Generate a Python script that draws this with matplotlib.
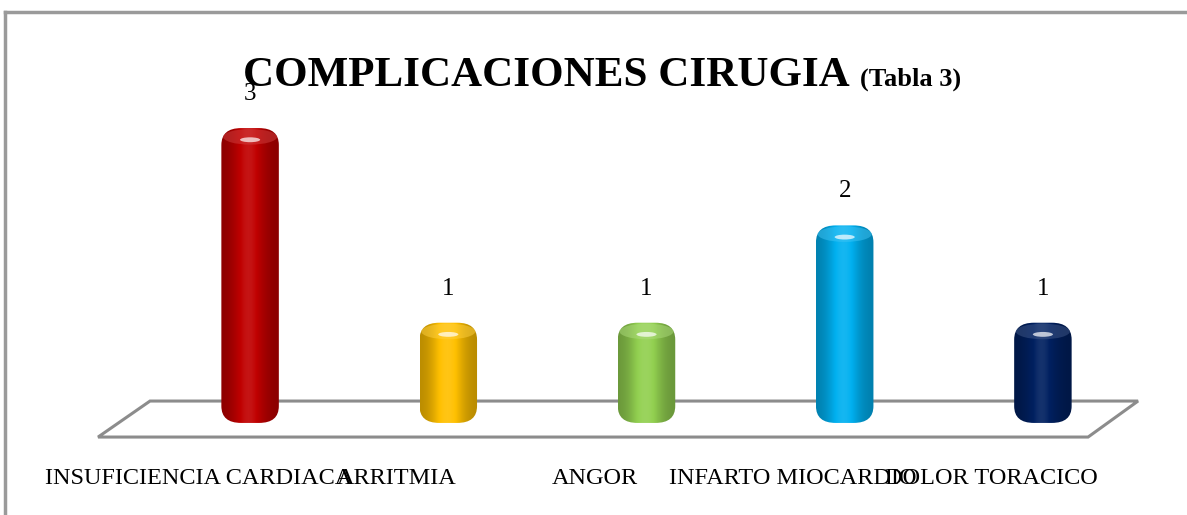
import numpy as np
import matplotlib.pyplot as plt
from matplotlib.patches import FancyBboxPatch, Ellipse, Polygon
from matplotlib.lines import Line2D
from matplotlib.colors import to_rgb

### datos #####
categorias = ["INSUFICIENCIA CARDIACA", "ARRITMIA", "ANGOR", "INFARTO MIOCARDIO", "DOLOR TORACICO"]
valores = [3, 1, 1, 2, 1]
colores = ["#c00000", "#ffc000", "#92d050", "#00b0f0", "#002060"]
titulo = "COMPLICACIONES CIRUGIA"
subtitulo = "(Tabla 3)"
#######

plt.rcParams["font.family"] = ["Liberation Serif", "DejaVu Serif"]

W, H = 1187, 515
fig = plt.figure(figsize=(W / 100, H / 100), dpi=100)
ax = fig.add_axes([151 / W, 7.4 / H, 991 / W, 496.3 / H])
ax.axis("off")

# px por unidad en cada eje (para redondear las barras sin deformarlas)
px_x = 991 / 5.0
px_y = 496.3 / 5.1
asp = px_x / px_y

# suelo en perspectiva
ax.add_patch(Polygon([[-0.767, -0.175], [-0.505, 0.195], [4.48, 0.195], [4.228, -0.175]],
                     closed=True, fill=False, edgecolor="#8c8c8c", lw=2.2, zorder=1,
                     clip_on=False))

x = np.arange(len(categorias))
barras = ax.bar(x, valores, width=0.29, color="none", edgecolor="none", zorder=2)

t = np.linspace(-1, 1, 80)
sombra = 0.72 + 0.36 * np.exp(-((t + 0.05) / 0.55) ** 2)

for b, c in zip(barras, colores):
    x0, w, h = b.get_x(), b.get_width(), b.get_height()
    base = -0.03
    parche = FancyBboxPatch((x0, base), w, h - base,
                            boxstyle="round,pad=0,rounding_size=0.1",
                            mutation_aspect=asp * 0.85, fc="none", ec="none", zorder=3)
    ax.add_patch(parche)
    rgb = np.array(to_rgb(c))
    img = np.where(sombra[:, None] <= 1, rgb[None, :] * sombra[:, None],
                   rgb[None, :] + (1 - rgb[None, :]) * (sombra[:, None] - 1))
    img = np.clip(img, 0, 1)[None, :, :]
    im = ax.imshow(img, extent=(x0, x0 + w, base, h), aspect="auto",
                   interpolation="bicubic", zorder=3)
    im.set_clip_path(parche)
    # tapa superior
    claro = rgb + (1 - rgb) * 0.25
    ax.add_patch(Ellipse((x0 + w / 2, h - 0.09), w * 0.94, 0.16, fc=claro, ec="none",
                         alpha=0.5, zorder=4))
    ax.add_patch(Ellipse((x0 + w / 2, h - 0.12), w * 0.35, 0.05, fc="white", ec="none",
                         alpha=0.7, zorder=5))
    ax.text(x0 + w / 2, h + 0.35, str(int(h)), ha="center", va="center", fontsize=18)

for xi, cat in zip(x, categorias):
    ax.text(xi - 0.26, -0.6, cat, ha="center", va="center", fontsize=17.5)

ax.set_xlim(-0.5, 4.5)
ax.set_ylim(-0.9, 4.2)

# titulo
t1 = fig.text(243 / W, 1 - 86 / H, titulo, fontsize=31, fontweight="bold", va="baseline")
fig.canvas.draw()
bb = t1.get_window_extent(renderer=fig.canvas.get_renderer())
fig.text((bb.x1 + 10) / W, 1 - 86 / H, subtitulo, fontsize=19, fontweight="bold", va="baseline")

# borde
fig.add_artist(Line2D([5 / W, 5 / W], [0, 1 - 12 / H], color="#9a9a9a", lw=2.5))
fig.add_artist(Line2D([5 / W, 1], [1 - 12 / H, 1 - 12 / H], color="#9a9a9a", lw=2.5))

plt.savefig("out.png", dpi=100)
